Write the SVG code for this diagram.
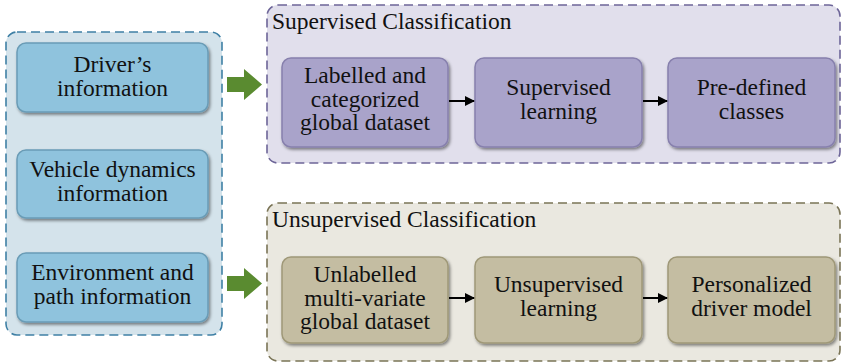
<svg xmlns="http://www.w3.org/2000/svg" width="842" height="363" viewBox="0 0 842 363">
<defs>
<style>
.cont{stroke-width:1.6;stroke-dasharray:9 5;}
.node{stroke-width:1.5;filter:url(#sh);}
.t{font-family:"Liberation Serif","Times New Roman",serif;font-size:23.5px;fill:#111;text-anchor:middle;}
.title{font-family:"Liberation Serif","Times New Roman",serif;font-size:23.5px;fill:#111;}
.conn{stroke:#000;stroke-width:2;fill:none;marker-end:url(#ah);}
.big{fill:#5a8b30;}
</style>
<filter id="sh" x="-10%" y="-10%" width="125%" height="130%">
<feDropShadow dx="1.5" dy="2" stdDeviation="1.5" flood-color="#000" flood-opacity="0.45"/>
</filter>
<marker id="ah" viewBox="0 0 10 10" refX="9" refY="5" markerWidth="5" markerHeight="5" orient="auto" markerUnits="strokeWidth">
<path d="M0,0 L10,5 L0,10 z" fill="#000"/>
</marker>
</defs>

<g id="input-group">
<rect class="cont" x="6" y="32" width="216" height="303" rx="11" fill="#d4e3eb" stroke="#3f80a5"/>
</g>
<g id="supervised-group">
<rect class="cont" x="267" y="5" width="573" height="158" rx="11" fill="#e1dfec" stroke="#6d6598"/>
<text class="title" x="272" y="29">Supervised Classification</text>
</g>
<g id="unsupervised-group">
<rect class="cont" x="267" y="203" width="573" height="158" rx="11" fill="#eae8e0" stroke="#7a7456"/>
<text class="title" x="272" y="227">Unsupervised Classification</text>
</g>

<g id="driver">
<rect class="node" x="17" y="43" width="191" height="69" rx="9" fill="#8fc3dd" stroke="#6a9cb6"/>
<text class="t" x="112.5" y="72">Driver’s</text>
<text class="t" x="112.5" y="95.5">information</text>
</g>
<g id="vehicle">
<rect class="node" x="17" y="150" width="191" height="68" rx="9" fill="#8fc3dd" stroke="#6a9cb6"/>
<text class="t" x="112.5" y="177">Vehicle dynamics</text>
<text class="t" x="112.5" y="200.5">information</text>
</g>
<g id="environment">
<rect class="node" x="17" y="253" width="191" height="69" rx="9" fill="#8fc3dd" stroke="#6a9cb6"/>
<text class="t" x="112.5" y="280">Environment and</text>
<text class="t" x="112.5" y="303.5">path information</text>
</g>

<g id="labelled">
<rect class="node" x="282" y="58" width="166" height="89" rx="9" fill="#a9a3ca" stroke="#8780ad"/>
<text class="t" x="365" y="83">Labelled and</text>
<text class="t" x="365" y="106.5">categorized</text>
<text class="t" x="365" y="130">global dataset</text>
</g>
<g id="suplearn">
<rect class="node" x="475" y="58" width="167" height="89" rx="9" fill="#a9a3ca" stroke="#8780ad"/>
<text class="t" x="558.5" y="95">Supervised</text>
<text class="t" x="558.5" y="118.5">learning</text>
</g>
<g id="predefined">
<rect class="node" x="668" y="58" width="167" height="89" rx="9" fill="#a9a3ca" stroke="#8780ad"/>
<text class="t" x="751.5" y="95">Pre-defined</text>
<text class="t" x="751.5" y="118.5">classes</text>
</g>

<g id="unlabelled">
<rect class="node" x="282" y="257" width="166" height="86" rx="9" fill="#c4bda2" stroke="#9f9878"/>
<text class="t" x="365" y="282">Unlabelled</text>
<text class="t" x="365" y="305.5">multi-variate</text>
<text class="t" x="365" y="329">global dataset</text>
</g>
<g id="unsuplearn">
<rect class="node" x="475" y="257" width="167" height="86" rx="9" fill="#c4bda2" stroke="#9f9878"/>
<text class="t" x="558.5" y="292">Unsupervised</text>
<text class="t" x="558.5" y="315.5">learning</text>
</g>
<g id="personalized">
<rect class="node" x="668" y="257" width="167" height="86" rx="9" fill="#c4bda2" stroke="#9f9878"/>
<text class="t" x="751.5" y="292">Personalized</text>
<text class="t" x="751.5" y="316">driver model</text>
</g>

<g id="connectors">
<path class="big" d="M227,77 L244,77 L244,69 L262,84.5 L244,100 L244,92 L227,92 Z"/>
<path class="big" d="M227,276 L244,276 L244,268 L262,283.5 L244,299 L244,291 L227,291 Z"/>
<line class="conn" x1="449" y1="101" x2="474" y2="101"/>
<line class="conn" x1="643" y1="101" x2="667" y2="101"/>
<line class="conn" x1="449" y1="298" x2="474" y2="298"/>
<line class="conn" x1="643" y1="298" x2="667" y2="298"/>
</g>
</svg>
